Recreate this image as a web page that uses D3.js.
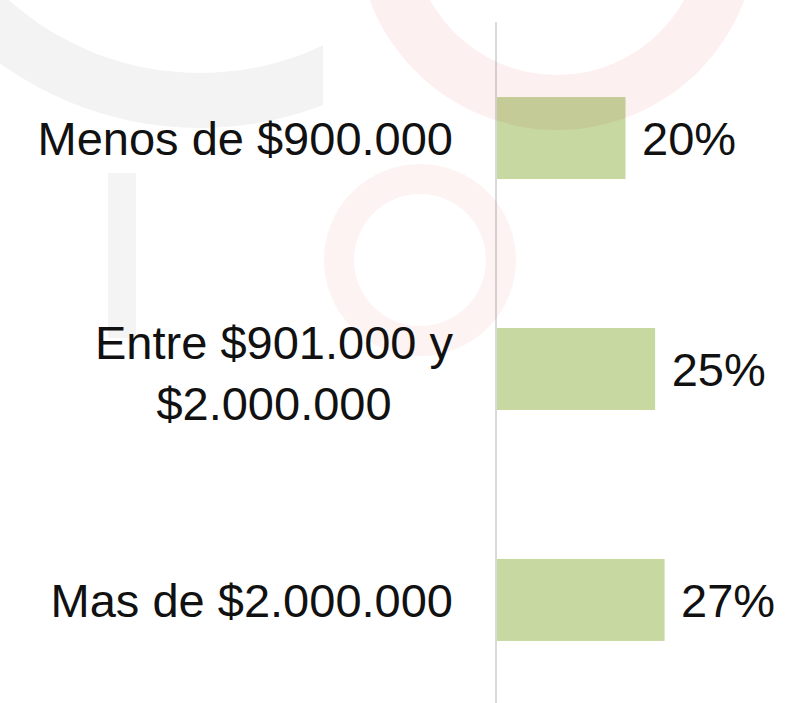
<!DOCTYPE html>
<html>
<head>
<meta charset="utf-8">
<script src="https://cdn.jsdelivr.net/npm/d3@7"></script>
<style>
  html, body { margin: 0; padding: 0; background: #fff; overflow: hidden; }
  text { font-family: "Liberation Sans", Arial, sans-serif; fill: #111; }
</style>
</head>
<body>
<div id="chart"></div>
<script>
// categories (lines of each label) and the share of each one
const categories = ["Menos de $900.000", "Entre $901.000 y $2.000.000", "Mas de $2.000.000"];
const labelLines = [["Menos de $900.000"], ["Entre $901.000 y", "$2.000.000"], ["Mas de $2.000.000"]];
const shares = [0.204, 0.251, 0.266];
const shareLabels = ["20%", "25%", "27%"];

const width = 789, height = 703;
const fontSize = 47;

const svg = d3.select("#chart")
  .append("svg")
  .attr("width", width)
  .attr("height", height);

// scales
const axisX = 497;
const xScale = d3.scaleLinear().domain([0, 0.30]).range([axisX, axisX + 189]);
const yScale = d3.scaleBand()
  .domain(categories)
  .range([22, 716])
  .paddingInner(0.645)
  .paddingOuter(0.325);

const data = categories.map((c, i) => ({ cat: c, lines: labelLines[i], value: shares[i], label: shareLabels[i] }));

// bars
svg.selectAll("rect.bar")
  .data(data)
  .join("rect")
  .attr("class", "bar")
  .attr("x", xScale(0))
  .attr("y", d => yScale(d.cat))
  .attr("width", d => xScale(d.value) - xScale(0))
  .attr("height", yScale.bandwidth())
  .attr("fill", "#c7d8a1");

// vertical axis line
svg.append("line")
  .attr("x1", axisX - 1).attr("x2", axisX - 1)
  .attr("y1", yScale.range()[0]).attr("y2", yScale.range()[1])
  .attr("stroke", "#d9d9d9")
  .attr("stroke-width", 2);

// value labels
svg.selectAll("text.value")
  .data(data)
  .join("text")
  .attr("class", "value")
  .attr("x", d => xScale(d.value) + 16.5)
  .attr("y", d => yScale(d.cat) + yScale.bandwidth() / 2)
  .attr("dy", "0.36em")
  .style("font-size", fontSize + "px")
  .text(d => d.label);

// category labels: block right aligned, lines centred within the block
const labelRight = 453;
const lineHeight = 61;
const catG = svg.selectAll("g.cat")
  .data(data)
  .join("g")
  .attr("class", "cat");

catG.each(function (d) {
  const g = d3.select(this);
  const cy = yScale(d.cat) + yScale.bandwidth() / 2 + (d.lines.length > 1 ? 4 : 0);
  const texts = g.selectAll("text")
    .data(d.lines)
    .join("text")
    .style("font-size", fontSize + "px")
    .attr("text-anchor", "middle")
    .attr("y", (l, i) => cy + (i - (d.lines.length - 1) / 2) * lineHeight)
    .attr("dy", "0.36em")
    .text(l => l);
  const maxW = d3.max(texts.nodes(), n => n.getComputedTextLength());
  texts.attr("x", labelRight - maxW / 2);
});

// faint background watermark
const wm = svg.append("g").style("mix-blend-mode", "multiply").attr("pointer-events", "none");
const ring = d3.arc();
svg.append("defs").append("clipPath").attr("id", "cutC")
  .append("rect").attr("x", -10).attr("y", -10).attr("width", 333).attr("height", 300);
wm.append("g")
  .attr("clip-path", "url(#cutC)")
  .append("path")
  .attr("transform", "translate(200,-214)")
  .attr("d", ring({ innerRadius: 287, outerRadius: 342, startAngle: 0, endAngle: 2 * Math.PI }))
  .attr("fill", "#f3f3f3");
wm.append("rect")
  .attr("x", 108).attr("y", 173).attr("width", 28).attr("height", 165)
  .attr("fill", "#f4f4f4");
wm.append("path")
  .attr("transform", "translate(557,-70)")
  .attr("d", ring({ innerRadius: 145, outerRadius: 200, startAngle: 0, endAngle: 2 * Math.PI }))
  .attr("fill", "#fdf0f0");
wm.append("path")
  .attr("transform", "translate(420,260)")
  .attr("d", ring({ innerRadius: 66, outerRadius: 96, startAngle: 0, endAngle: 2 * Math.PI }))
  .attr("fill", "#fdf3f3");
</script>
</body>
</html>
